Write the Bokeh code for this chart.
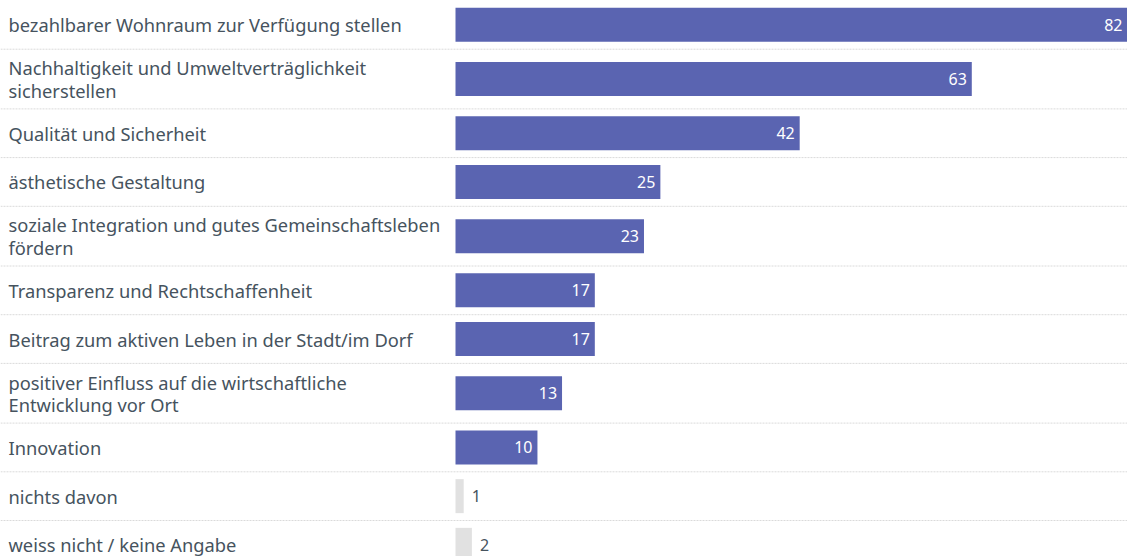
from bokeh.plotting import figure
from bokeh.models import Range1d, ColumnDataSource
from bokeh.core.properties import value
from bokeh.embed import file_html
from bokeh.resources import INLINE

# ---- data ----
categories = [
    "bezahlbarer Wohnraum zur Verfügung stellen",
    "Nachhaltigkeit und Umweltverträglichkeit\nsicherstellen",
    "Qualität und Sicherheit",
    "ästhetische Gestaltung",
    "soziale Integration und gutes Gemeinschaftsleben\nfördern",
    "Transparenz und Rechtschaffenheit",
    "Beitrag zum aktiven Leben in der Stadt/im Dorf",
    "positiver Einfluss auf die wirtschaftliche\nEntwicklung vor Ort",
    "Innovation",
    "nichts davon",
    "weiss nicht / keine Angabe",
]
values = [82, 63, 42, 25, 23, 17, 17, 13, 10, 1, 2]
residual = ["nichts davon", "weiss nicht / keine Angabe"]

# ---- layout ----
W, H = 1127, 556
BAR_LEFT_PX = 455          # px where value 0 sits
LABEL_LEFT_PX = 8
x_max = max(values)
ppu = (W - BAR_LEFT_PX) / x_max
x_start = -BAR_LEFT_PX / ppu
x_label = x_start + LABEL_LEFT_PX / ppu

ROW1, ROW2 = 48.7, 59.7
BAR_H = 34

tops, centers, bottoms = [], [], []
y = 0.0
for c in categories:
    h = ROW2 if "\n" in c else ROW1
    tops.append(y)
    centers.append(y + h / 2)
    y += h
    bottoms.append(y)

BLUE = "#5a64b1"
GREY = "#e1e1e1"
TXT = "#46535e"

p = figure(width=W, height=H, output_backend="svg", toolbar_location=None,
           x_range=Range1d(x_start, x_max), y_range=Range1d(H, 0),
           min_border=0, outline_line_color=None)
p.xaxis.visible = False
p.yaxis.visible = False
p.xgrid.visible = False
p.ygrid.visible = False
p.background_fill_color = "white"
p.border_fill_color = "white"

# separators
sep_y = bottoms[:-1]
p.segment(x0=[x_start] * len(sep_y), x1=[x_max] * len(sep_y), y0=sep_y, y1=sep_y,
          line_color="#dadada", line_width=1, line_dash="2 1")

colors = [GREY if c in residual else BLUE for c in categories]
src = ColumnDataSource(dict(y=centers, v=values, c=colors, lab=categories,
                            xs=[x_label] * len(categories)))
p.hbar(y="y", left=0, right="v", height=BAR_H, fill_color="c",
       line_color=None, source=src)

p.text(x="xs", y="y", text="lab", source=src, text_font=value("Noto Sans"),
       text_font_size="18.3px", text_color=TXT, text_align="left",
       text_baseline="middle", text_line_height=0.9)

ins = [i for i, c in enumerate(categories) if c not in residual]
outs = [i for i, c in enumerate(categories) if c in residual]

p.text(x=[values[i] for i in ins], y=[centers[i] for i in ins],
       text=[str(values[i]) for i in ins], x_offset=-5,
       text_font=value("Noto Sans"), text_font_size="16px", text_color="white",
       text_align="right", text_baseline="middle")
p.text(x=[values[i] for i in outs], y=[centers[i] for i in outs],
       text=[str(values[i]) for i in outs], x_offset=8,
       text_font=value("Noto Sans"), text_font_size="16px", text_color=TXT,
       text_align="left", text_baseline="middle")

open("out.html", "w").write(file_html(p, INLINE))
